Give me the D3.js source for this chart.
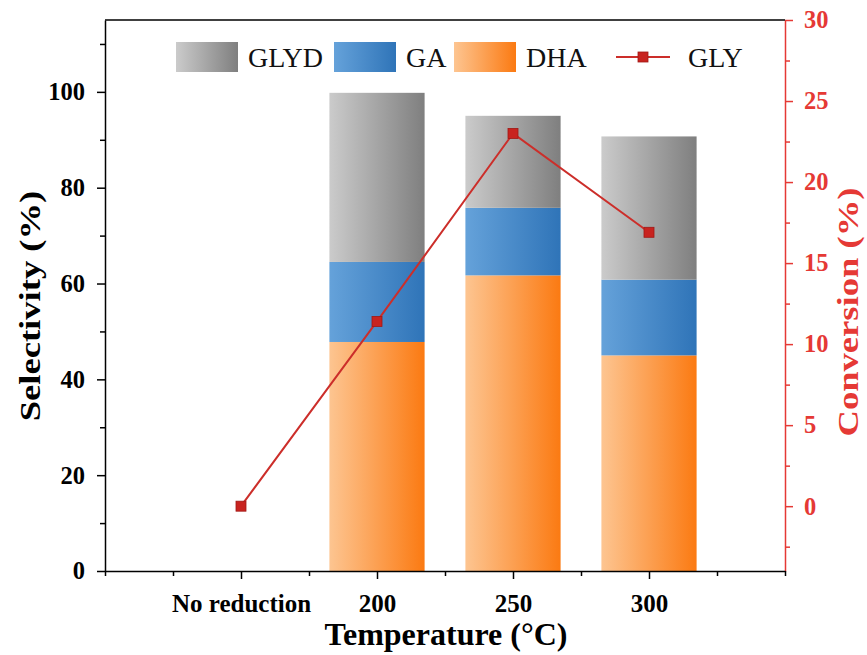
<!DOCTYPE html>
<html><head><meta charset="utf-8">
<script src="https://cdn.jsdelivr.net/npm/d3@7"></script>
<style>body{margin:0;background:#fff}svg{display:block}</style>
</head><body>
<svg id="c" width="867" height="655"></svg>
<script>
const categories = ["No reduction", "200", "250", "300"];
const DHA  = [null, 47.8, 61.7, 45.0];
const GA   = [null, 16.7, 14.1, 15.8];
const GLYD = [null, 35.3, 19.2, 29.9];
const GLY  = [0, 11.4, 23.0, 16.9];
const leftTicks = [0, 20, 40, 60, 80, 100];
const rightTicks = [0, 5, 10, 15, 20, 25, 30];

const svg = d3.select("#c");
const L = 105, R = 785, T = 20, B = 571;
const red = "#e53935";
const font = "'Liberation Serif','Times New Roman',serif";

const x = d3.scaleLinear().domain([0, 5]).range([L, R]);
const y = d3.scaleLinear().domain([0, 115]).range([B, T]);
const y2 = d3.scaleLinear().domain([-4, 30]).range([B, T]);

const defs = svg.append("defs");
function grad(id, c1, c2) {
  const g = defs.append("linearGradient").attr("id", id).attr("x1", "0%").attr("x2", "100%").attr("y1", "0%").attr("y2", "0%");
  g.append("stop").attr("offset", "0%").attr("stop-color", c1);
  g.append("stop").attr("offset", "100%").attr("stop-color", c2);
}
grad("gGLYD", "#cbcbcb", "#7f7f7f");
grad("gGA", "#65a2da", "#2f74b8");
grad("gDHA", "#fdc591", "#fb7a12");

const series = [
  {name: "DHA", vals: DHA, fill: "url(#gDHA)"},
  {name: "GA", vals: GA, fill: "url(#gGA)"},
  {name: "GLYD", vals: GLYD, fill: "url(#gGLYD)"}
];
const bw = 0.7;
categories.forEach((c, i) => {
  let base = 0;
  series.forEach(s => {
    const v = s.vals[i];
    if (v == null) return;
    svg.append("rect")
      .attr("x", x(i + 1 - bw / 2)).attr("width", x(bw) - x(0))
      .attr("y", y(base + v)).attr("height", y(base) - y(base + v))
      .attr("fill", s.fill);
    base += v;
  });
});

// Axes
const gL = svg.append("g").attr("transform", `translate(${L},0)`)
  .call(d3.axisLeft(y).tickValues(leftTicks).tickSize(8).tickSizeOuter(0).tickPadding(12));
const gLm = svg.append("g").attr("transform", `translate(${L},0)`)
  .call(d3.axisLeft(y).tickValues([10,30,50,70,90,110]).tickSize(5).tickSizeOuter(0).tickFormat(""));
gLm.select(".domain").remove();

const gR = svg.append("g").attr("transform", `translate(${R},0)`)
  .call(d3.axisRight(y2).tickValues(rightTicks).tickSize(8).tickSizeOuter(0).tickPadding(11));
const gRm = svg.append("g").attr("transform", `translate(${R},0)`)
  .call(d3.axisRight(y2).tickValues([-2.5,2.5,7.5,12.5,17.5,22.5,27.5]).tickSize(5).tickSizeOuter(0).tickFormat(""));
gRm.select(".domain").remove();

const gB = svg.append("g").attr("transform", `translate(0,${B})`)
  .call(d3.axisBottom(x).tickValues([1,2,3,4]).tickSize(8).tickSizeOuter(0).tickPadding(15)
    .tickFormat(d => categories[d - 1]));
const gBm = svg.append("g").attr("transform", `translate(0,${B})`)
  .call(d3.axisBottom(x).tickValues([0,0.5,1.5,2.5,3.5,4.5,5]).tickSize(5).tickSizeOuter(0).tickFormat(""));
gBm.select(".domain").remove();

svg.append("line").attr("x1", L).attr("x2", R).attr("y1", T).attr("y2", T).attr("stroke", "#000").attr("stroke-width", 1.5);

[gL, gLm, gB, gBm].forEach(g => {
  g.selectAll("path,line").attr("stroke", "#000").attr("stroke-width", 1.5);
});
[gR, gRm].forEach(g => {
  g.selectAll("path,line").attr("stroke", red).attr("stroke-width", 1.5);
});
[gL, gB].forEach(g => g.selectAll("text").attr("fill", "#000"));
gR.selectAll("text").attr("fill", red);
[gL, gR, gB].forEach(g => g.selectAll("text")
  .attr("font-family", font).attr("font-weight", "bold").attr("font-size", 24.5));
gB.selectAll("text").attr("font-size", 25);
[gL, gR, gB].forEach(g => g.attr("font-size", null));

// GLY line
const line = d3.line().x((d, i) => x(i + 1)).y(d => y2(d));
svg.append("path").datum(GLY).attr("d", line).attr("fill", "none")
  .attr("stroke", "#cc2e2a").attr("stroke-width", 2);
svg.selectAll(".pt").data(GLY).enter().append("rect")
  .attr("x", (d, i) => x(i + 1) - 5).attr("y", d => y2(d) - 5)
  .attr("width", 10).attr("height", 10)
  .attr("fill", "#c8231f").attr("stroke", "#a01815").attr("stroke-width", 0.8);

// Axis titles
svg.append("text").attr("transform", `translate(40,306) rotate(-90) scale(1.22,1)`)
  .attr("text-anchor", "middle").attr("font-family", font).attr("font-weight", "bold")
  .attr("font-size", 30).attr("fill", "#000").text("Selectivity (%)");
svg.append("text").attr("transform", `translate(858,312) rotate(-90) scale(1.22,1)`)
  .attr("text-anchor", "middle").attr("font-family", font).attr("font-weight", "bold")
  .attr("font-size", 30).attr("fill", red).text("Conversion (%)");
svg.append("text").attr("x", 446).attr("y", 645)
  .attr("text-anchor", "middle").attr("font-family", font).attr("font-weight", "bold")
  .attr("font-size", 32).attr("fill", "#000").text("Temperature (°C)");

// Legend
const legend = [
  {name: "GLYD", fill: "url(#gGLYD)", x: 176},
  {name: "GA", fill: "url(#gGA)", x: 334},
  {name: "DHA", fill: "url(#gDHA)", x: 454}
];
legend.forEach(l => {
  svg.append("rect").attr("x", l.x).attr("y", 42).attr("width", 62).attr("height", 30).attr("fill", l.fill);
  svg.append("text").attr("x", l.x + 72).attr("y", 67).attr("font-family", font)
    .attr("font-size", 28).attr("fill", "#111").text(l.name);
});
svg.append("line").attr("x1", 616).attr("x2", 670).attr("y1", 57).attr("y2", 57)
  .attr("stroke", "#cc2e2a").attr("stroke-width", 2);
svg.append("rect").attr("x", 638).attr("y", 52).attr("width", 10).attr("height", 10)
  .attr("fill", "#c8231f").attr("stroke", "#a01815").attr("stroke-width", 0.8);
svg.append("text").attr("x", 688).attr("y", 67).attr("font-family", font)
  .attr("font-size", 28).attr("fill", "#111").text("GLY");
</script>
</body></html>
